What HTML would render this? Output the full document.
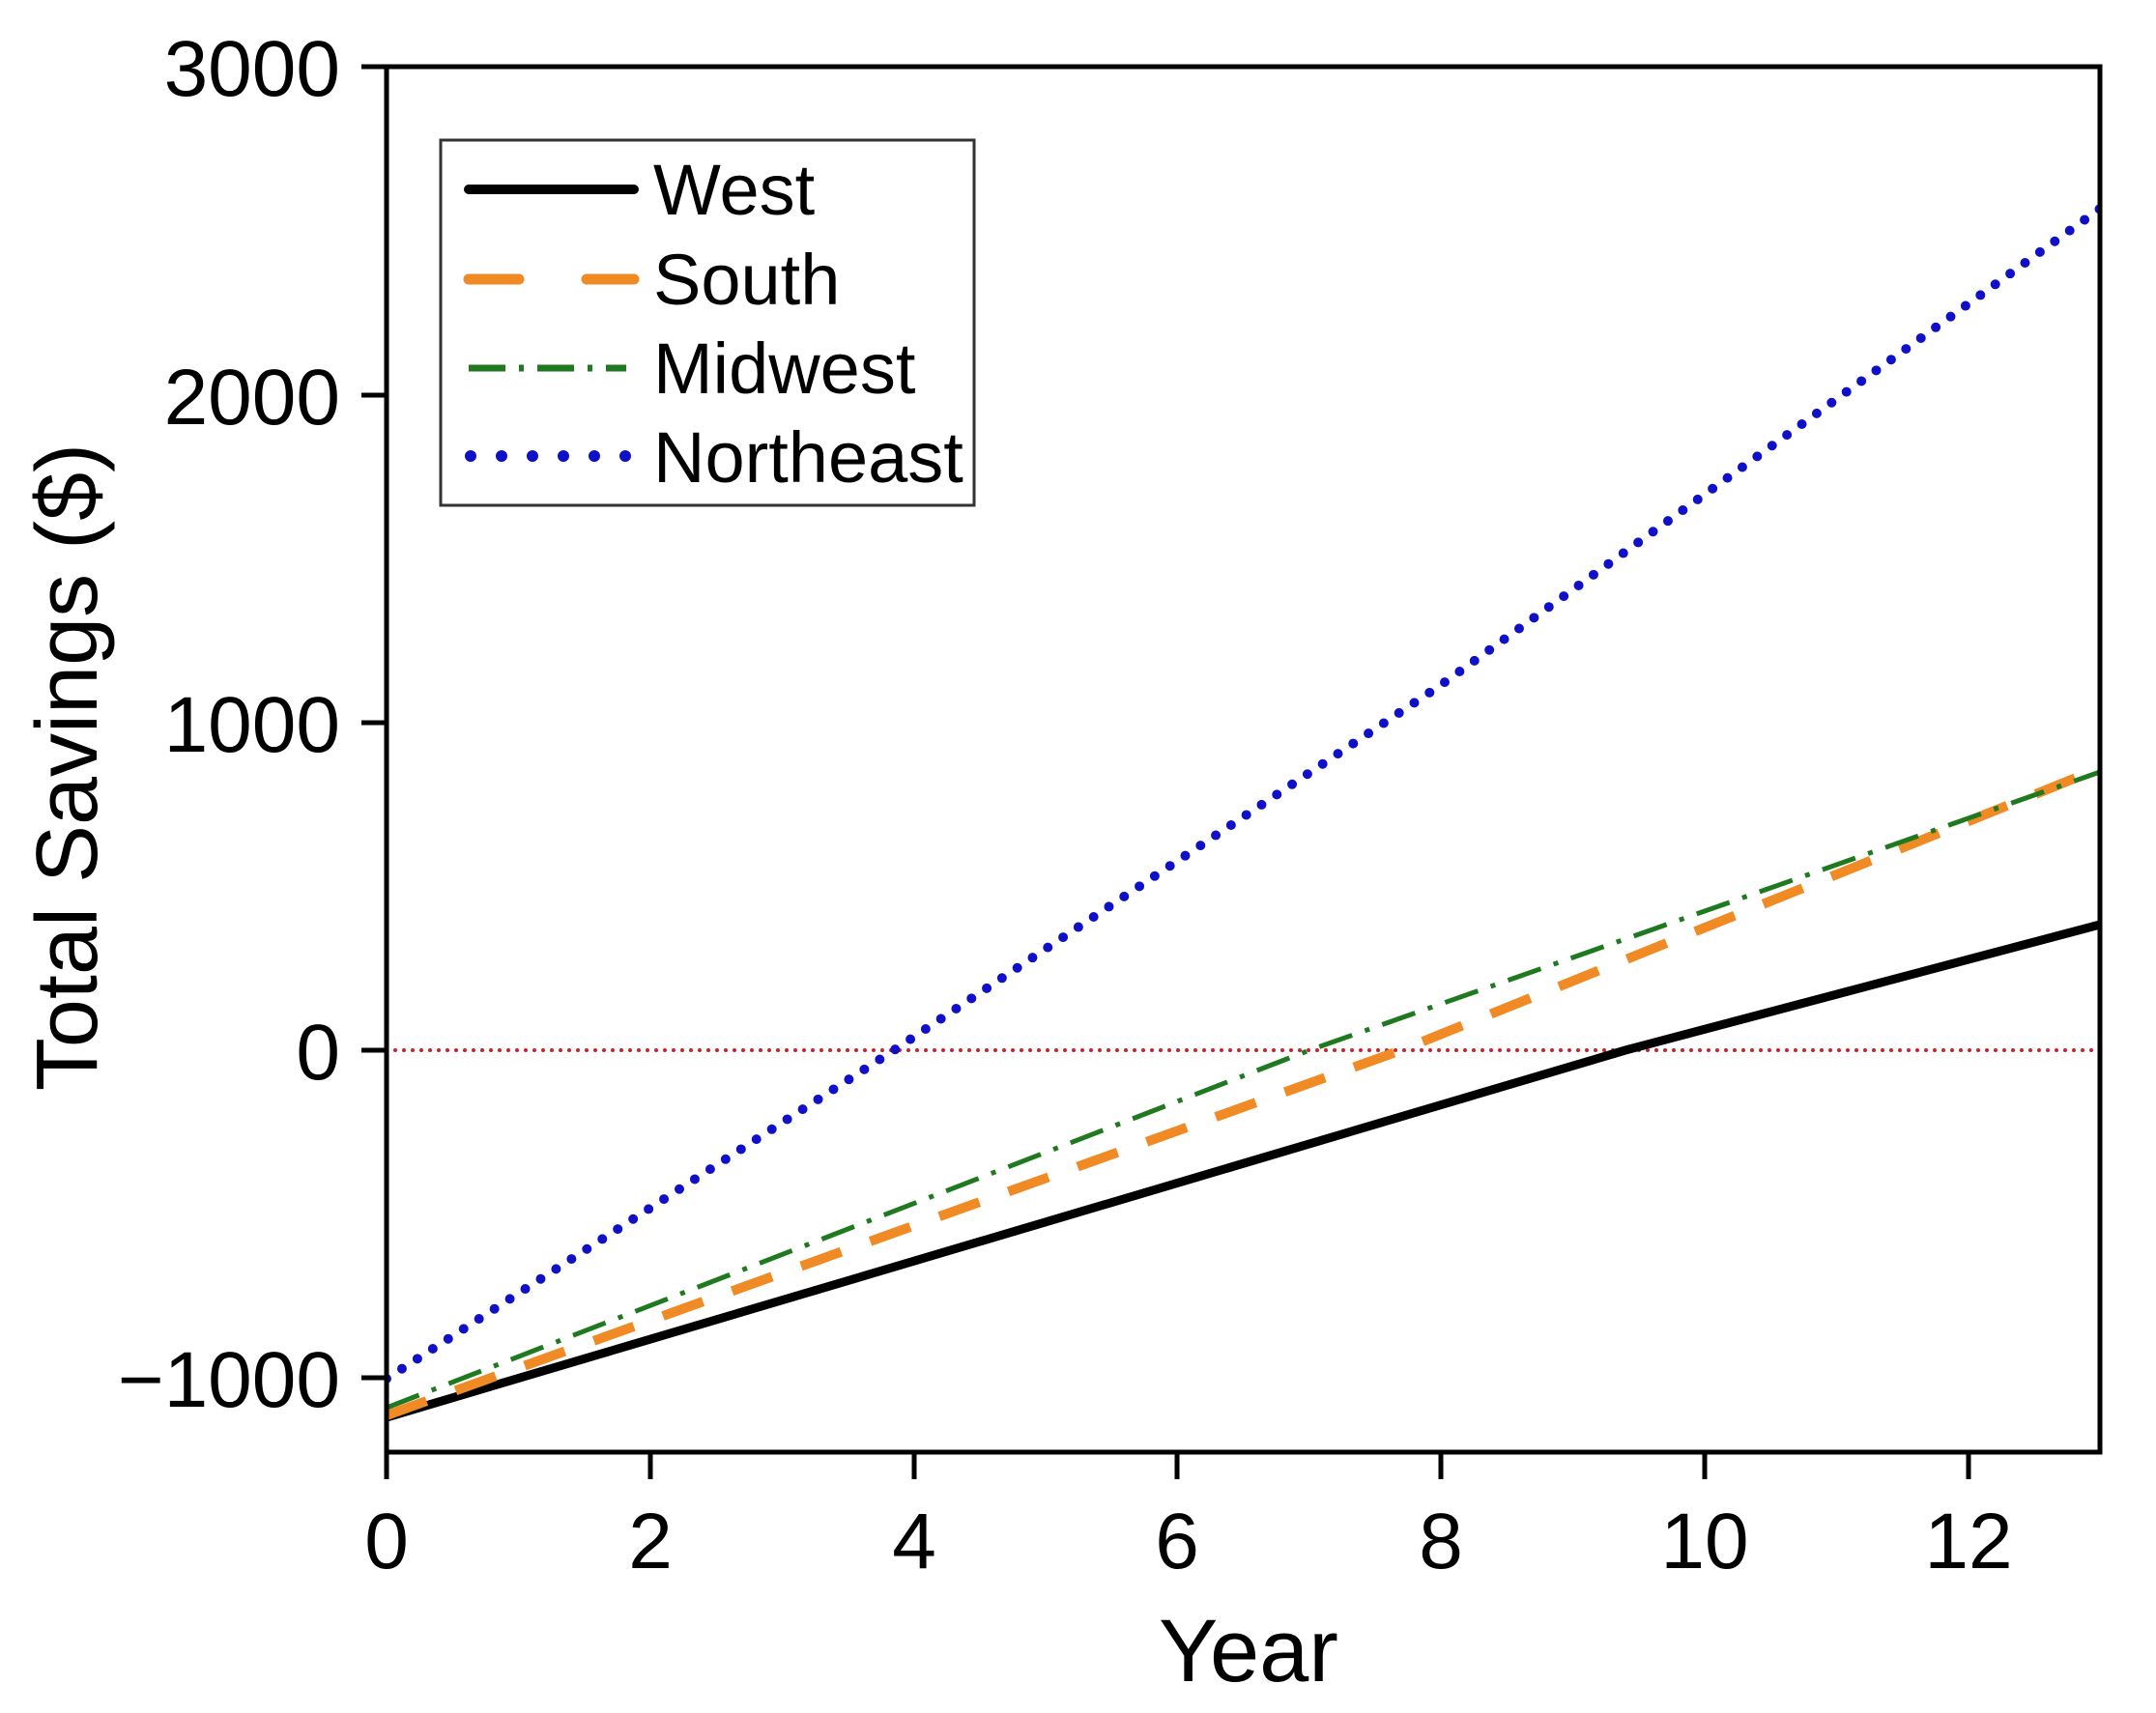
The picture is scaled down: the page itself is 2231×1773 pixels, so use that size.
<!DOCTYPE html>
<html><head><meta charset="utf-8"><style>html,body{margin:0;padding:0;background:#fff}</style></head>
<body>
<svg width="2231" height="1768" viewBox="0 0 2231 1768" xmlns="http://www.w3.org/2000/svg" font-family="Liberation Sans, Arial, sans-serif">
<defs><clipPath id="c"><rect x="400" y="69" width="1773" height="1434"/></clipPath></defs>
<rect width="2231" height="1768" fill="#fff"/>
<g clip-path="url(#c)" fill="none">
<line x1="400" y1="1087" x2="2173" y2="1087" stroke="#d0202a" stroke-width="4" stroke-linecap="round" stroke-dasharray="0 9"/>
<polyline points="400,1467 1682,1087 2173,957" stroke="#000" stroke-width="9"/>
<polyline points="400,1465 1450,1087 2173,795" stroke="#f08a24" stroke-width="10" stroke-dasharray="44 32"/>
<polyline points="400,1457 1355,1087 2173,799" stroke="#1f7a1f" stroke-width="5" stroke-dasharray="36 14 5 14"/>
<polyline points="400,1427 925,1087 1491,709 2173,216" stroke="#1010c8" stroke-width="10" stroke-linecap="round" stroke-dasharray="0 19"/>
</g>
<rect x="400" y="69" width="1773" height="1434" fill="none" stroke="#000" stroke-width="5"/>
<g stroke="#000" stroke-width="5">
<line x1="374" y1="69" x2="400" y2="69"/><line x1="374" y1="409" x2="400" y2="409"/><line x1="374" y1="748" x2="400" y2="748"/><line x1="374" y1="1087" x2="400" y2="1087"/><line x1="374" y1="1426" x2="400" y2="1426"/>
<line x1="400" y1="1503" x2="400" y2="1531"/><line x1="673" y1="1503" x2="673" y2="1531"/><line x1="946" y1="1503" x2="946" y2="1531"/><line x1="1218" y1="1503" x2="1218" y2="1531"/><line x1="1491" y1="1503" x2="1491" y2="1531"/><line x1="1764" y1="1503" x2="1764" y2="1531"/><line x1="2037" y1="1503" x2="2037" y2="1531"/>
</g>
<g font-size="82" text-anchor="end" fill="#000">
<text x="352" y="99">3000</text><text x="352" y="439">2000</text><text x="352" y="778">1000</text><text x="352" y="1117">0</text><text x="352" y="1456">−1000</text>
</g>
<g font-size="82" text-anchor="middle" fill="#000">
<text x="400" y="1623">0</text><text x="673" y="1623">2</text><text x="946" y="1623">4</text><text x="1218" y="1623">6</text><text x="1491" y="1623">8</text><text x="1764" y="1623">10</text><text x="2037" y="1623">12</text>
</g>
<text x="1292" y="1740" font-size="92" text-anchor="middle">Year</text>
<text transform="translate(100,794) rotate(-90)" font-size="90" text-anchor="middle">Total Savings ($)</text>
<rect x="456" y="145" width="552" height="378" fill="#fff" stroke="#333" stroke-width="3"/>
<line x1="485" y1="196" x2="656" y2="196" stroke="#000" stroke-width="10" stroke-linecap="round"/>
<line x1="485" y1="289" x2="656" y2="289" stroke="#f08a24" stroke-width="11" stroke-linecap="round" stroke-dasharray="52 70"/>
<line x1="485" y1="381" x2="648" y2="381" stroke="#1f7a1f" stroke-width="7" stroke-dasharray="38 14 5 14"/>
<line x1="487" y1="472" x2="652" y2="472" stroke="#1010c8" stroke-width="12" stroke-linecap="round" stroke-dasharray="0 32"/>
<g font-size="74" fill="#000">
<text x="676" y="222">West</text><text x="676" y="315">South</text><text x="676" y="407">Midwest</text><text x="676" y="499">Northeast</text>
</g>
</svg>
</body></html>
